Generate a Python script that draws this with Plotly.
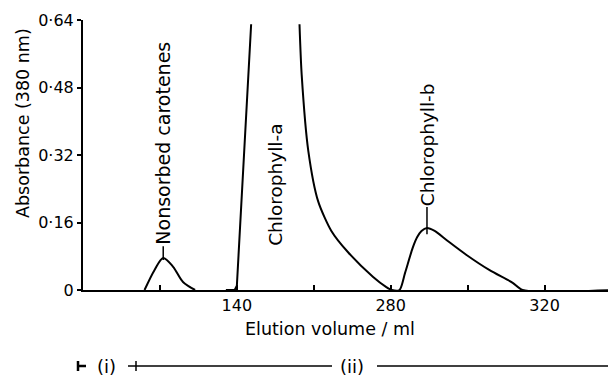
import plotly.graph_objects as go

# ---- data ----
carotene_vol = [56, 65, 73, 82, 91, 102]
carotene_abs = [0.0, 0.047, 0.076, 0.055, 0.019, 0.0]

chla_rise_vol = [130, 138, 140, 153]
chla_rise_abs = [0.0, 0.0, 0.01, 0.63]

chla_decay_vol = [197, 199, 205, 214, 226, 241, 264, 276, 281, 288, 293, 300, 304, 308, 313, 320, 331, 349, 370, 391, 400, 485]
chla_decay_abs = [0.63, 0.51, 0.33, 0.21, 0.14, 0.09, 0.031, 0.007, 0.0, 0.0, 0.04, 0.1, 0.125, 0.14, 0.147, 0.14, 0.118, 0.083, 0.047, 0.017, 0.0, 0.0]

x_tickvals = [70, 140, 210, 280, 350, 420]
x_ticktext = ["", "140", "", "280", "", "320"]
y_tickvals = [0, 0.16, 0.32, 0.48, 0.64]
y_ticktext = ["0", "0·16", "0·32", "0·48", "0·64"]

peak_labels = ["Nonsorbed carotenes", "Chlorophyll-a", "Chlorophyll-b"]
x_title = "Elution volume / ml"
y_title = "Absorbance (380 nm)"
phase_labels = ["(i)", "(ii)"]

FONT = "DejaVu Sans"
OFF = 8                      # page body margin of the html page
W, H = 616 - OFF, 377 - OFF  # figure size so that it fills the window
ML, MR, MT, MB = 83 - OFF, 0, 20 - OFF, 87
PW, PH = W - ML - MR, H - MT - MB


def px(xp):  # window pixel -> paper coordinate
    return (xp - OFF - ML) / PW


def py(yp):
    return (OFF + MT + PH - yp) / PH


line = dict(color="black", width=2)

fig = go.Figure()
fig.add_trace(go.Scatter(x=carotene_vol, y=carotene_abs, mode="lines",
                         line=dict(color="black", width=2, shape="spline", smoothing=0.9)))
fig.add_trace(go.Scatter(x=chla_rise_vol, y=chla_rise_abs, mode="lines", line=line))
fig.add_trace(go.Scatter(x=chla_decay_vol, y=chla_decay_abs, mode="lines",
                         line=dict(color="black", width=2, shape="spline", smoothing=0.7)))

# peak marker ticks + rotated labels
car_peak = max(carotene_abs)
car_x = carotene_vol[carotene_abs.index(car_peak)]
chlb_peak = max(chla_decay_abs[8:])
chlb_x = chla_decay_vol[chla_decay_abs.index(chlb_peak)]

fig.add_shape(type="line", x0=car_x, x1=car_x, y0=car_peak - 0.005, y1=car_peak + 0.028, line=dict(color="black", width=1.5))
fig.add_shape(type="line", x0=chlb_x, x1=chlb_x, y0=chlb_peak - 0.015, y1=chlb_peak + 0.05, line=dict(color="black", width=1.5))

lab_font = dict(family=FONT, size=18.5, color="black")
fig.add_annotation(x=car_x, y=car_peak + 0.026, text=peak_labels[0], textangle=-90, showarrow=False,
                   xanchor="center", yanchor="bottom", font=dict(family=FONT, size=19, color="black"))
fig.add_annotation(x=175, y=0.25, text=peak_labels[1], textangle=-90, showarrow=False,
                   xanchor="center", yanchor="middle", font=lab_font)
fig.add_annotation(x=chlb_x, y=chlb_peak + 0.048, text=peak_labels[2], textangle=-90, showarrow=False,
                   xanchor="center", yanchor="bottom", font=lab_font)

# axis titles
fig.add_annotation(xref="paper", yref="paper", x=px(23), y=py(123), text=y_title, textangle=-90,
                   showarrow=False, xanchor="center", yanchor="middle",
                   font=dict(family=FONT, size=17.5, color="black"))
fig.add_annotation(xref="paper", yref="paper", x=px(330), y=py(329), text=x_title,
                   showarrow=False, xanchor="center", yanchor="middle",
                   font=dict(family=FONT, size=17.5, color="black"))

# phase bracket below the axis
yb = py(366)
dy = 5 / PH
bl = dict(color="black", width=1.5)
fig.add_shape(type="line", xref="paper", yref="paper", x0=px(77), x1=px(86), y0=yb, y1=yb, line=dict(color="black", width=2.5))
fig.add_shape(type="line", xref="paper", yref="paper", x0=px(78), x1=px(78), y0=yb - dy, y1=yb + dy, line=dict(color="black", width=2.5))
fig.add_annotation(xref="paper", yref="paper", x=px(106), y=yb, text=phase_labels[0], showarrow=False,
                   xanchor="center", yanchor="middle", font=dict(family=FONT, size=18, color="black"))
fig.add_shape(type="line", xref="paper", yref="paper", x0=px(128), x1=px(332), y0=yb, y1=yb, line=bl)
fig.add_shape(type="line", xref="paper", yref="paper", x0=px(136), x1=px(136), y0=yb - dy, y1=yb + dy, line=bl)
fig.add_annotation(xref="paper", yref="paper", x=px(352), y=yb, text=phase_labels[1], showarrow=False,
                   xanchor="center", yanchor="middle", font=dict(family=FONT, size=18, color="black"))
fig.add_shape(type="line", xref="paper", yref="paper", x0=px(377), x1=px(613), y0=yb, y1=yb, line=bl)
fig.add_shape(type="line", xref="paper", yref="paper", x0=px(612), x1=px(612), y0=yb - dy, y1=yb + dy, line=dict(color="black", width=3))

fig.update_layout(
    width=W, height=H,
    margin=dict(l=ML, r=MR, t=MT, b=MB, autoexpand=False),
    paper_bgcolor="white", plot_bgcolor="white",
    showlegend=False,
    font=dict(family=FONT, size=16, color="black"),
)
fig.update_xaxes(range=[0, 485], tickvals=x_tickvals, ticktext=x_ticktext,
                 ticks="inside", ticklen=5, tickwidth=1.5, tickcolor="black",
                 showline=True, linecolor="black", linewidth=2, showgrid=False, zeroline=False,
                 automargin=False, tickfont=dict(size=16))
fig.update_yaxes(range=[0, 0.64], tickvals=y_tickvals, ticktext=y_ticktext,
                 ticks="outside", ticklen=4, tickwidth=1.5, tickcolor="black",
                 showline=True, linecolor="black", linewidth=2, showgrid=False, zeroline=False,
                 automargin=False, tickfont=dict(size=16))

fig.write_html("out.html")
